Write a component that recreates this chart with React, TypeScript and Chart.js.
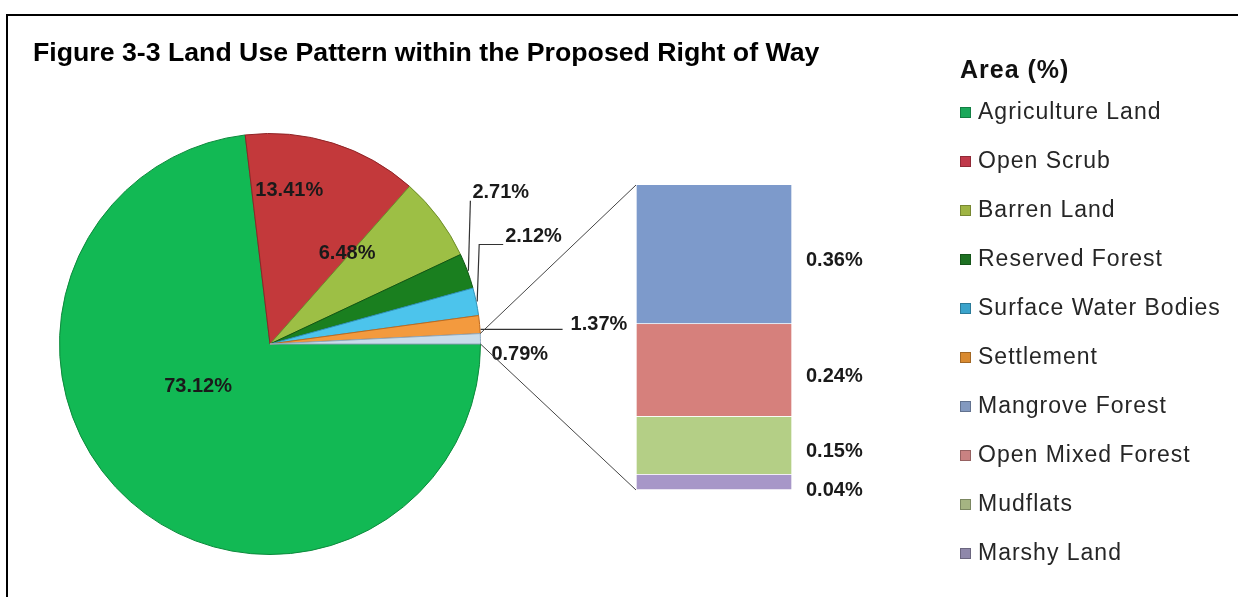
import React, { useEffect, useRef } from 'react';
import { Chart, registerables } from 'chart.js';

Chart.register(...registerables);

const W = 1238;
const H = 597;
const FONT = "'Liberation Sans', Arial, sans-serif";

const titleText = 'Figure 3-3 Land Use Pattern within the Proposed Right of Way';
const legendTitle = 'Area (%)';

const pieLabels = [
  'Agriculture Land',
  'Open Scrub',
  'Barren Land',
  'Reserved Forest',
  'Surface Water Bodies',
  'Settlement',
  'Other',
];
const pieValues = [73.12, 13.41, 6.48, 2.71, 2.12, 1.37, 0.79];

const barLabels = ['Mangrove Forest', 'Open Mixed Forest', 'Mudflats', 'Marshy Land'];
const barValues = [0.36, 0.24, 0.15, 0.04];

const pieColors = ['#12b954', '#c3393b', '#9dbf45', '#1a7f1f', '#4cc4ec', '#f39a3e', '#c9dcea'];
const pieBorders = ['#0c8a3c', '#8f2426', '#6e8e2a', '#0e5512', '#2f93b8', '#c06a1c', '#8fa9bd'];
const barColors = ['#7d9acb', '#d6807c', '#b4cf86', '#a797c8'];
const legendSwatches = ['#1aa85a', '#c0394a', '#9fb443', '#1d7022', '#3aa3cb', '#d98a30', '#8399bf', '#c98282', '#a5b482', '#8f88aa'];

// label layout: inside labels (frac of radius along mid-angle + pixel nudge)
const insideLayout: Record<number, { frac: number; dx: number; dy: number }> = {
  0: { frac: 0.5, dx: -2, dy: -36 },
  1: { frac: 0.72, dx: -26, dy: -9 },
  2: { frac: 0.6, dx: -24, dy: -15 },
};
// outside labels: offset of label (left, middle) from slice edge point; leader type
const outsideLayout: Record<number, { dx: number; dy: number; leader: 'elbow' | 'flat' | 'none' }> = {
  3: { dx: 4, dy: -78, leader: 'elbow' },
  4: { dx: 28, dy: -65, leader: 'elbow' },
  5: { dx: 90, dy: 0, leader: 'flat' },
  6: { dx: 10, dy: 16, leader: 'none' },
};

const fmt = (v: number) => v.toFixed(2) + '%';

export default function App() {
  const pieRef = useRef<HTMLCanvasElement>(null);
  const barRef = useRef<HTMLCanvasElement>(null);

  useEffect(() => {
    if (!pieRef.current || !barRef.current) return;

    const piePlugin = {
      id: 'pieDecor',
      afterDraw(chart: any) {
        const ctx = chart.ctx as CanvasRenderingContext2D;
        ctx.save();
        // title
        ctx.fillStyle = '#000';
        ctx.font = `bold 26.7px ${FONT}`;
        ctx.textBaseline = 'alphabetic';
        ctx.textAlign = 'left';
        ctx.fillText(titleText, 33, 61);

        // legend
        (ctx as any).letterSpacing = '1px';
        ctx.font = `bold 25px ${FONT}`;
        ctx.fillStyle = '#111';
        ctx.textBaseline = 'middle';
        ctx.fillText(legendTitle, 960, 71);
        const items = [...pieLabels.slice(0, 6), ...barLabels];
        ctx.font = `23px ${FONT}`;
        items.forEach((name, i) => {
          const cy = 112 + i * 49;
          ctx.fillStyle = legendSwatches[i];
          ctx.fillRect(960, cy - 5, 11, 11);
          ctx.strokeStyle = 'rgba(0,0,0,0.25)';
          ctx.lineWidth = 1;
          ctx.strokeRect(960.5, cy - 4.5, 10, 10);
          ctx.fillStyle = '#262626';
          ctx.fillText(name, 978, cy + 1);
        });
        (ctx as any).letterSpacing = '0px';

        // data labels
        const meta = chart.getDatasetMeta(0);
        ctx.font = `bold 20px ${FONT}`;
        ctx.fillStyle = '#1a1a1a';
        ctx.strokeStyle = '#333';
        ctx.lineWidth = 1.2;
        meta.data.forEach((arc: any, i: number) => {
          const mid = (arc.startAngle + arc.endAngle) / 2;
          const text = fmt(pieValues[i]);
          if (insideLayout[i]) {
            const l = insideLayout[i];
            const r = arc.outerRadius * l.frac;
            ctx.textAlign = 'center';
            ctx.fillText(text, arc.x + r * Math.cos(mid) + l.dx, arc.y + r * Math.sin(mid) + l.dy);
          } else if (outsideLayout[i]) {
            const l = outsideLayout[i];
            const ex = arc.x + (arc.outerRadius + 1) * Math.cos(mid);
            const ey = arc.y + (arc.outerRadius + 1) * Math.sin(mid);
            const lx = ex + l.dx;
            const ly = ey + l.dy;
            ctx.beginPath();
            if (l.leader === 'elbow') {
              ctx.moveTo(ex, ey);
              ctx.lineTo(ex + 2, ly + 8);
              ctx.lineTo(lx - 2, ly + 8);
              ctx.stroke();
            } else if (l.leader === 'flat') {
              ctx.moveTo(ex, ly + 5);
              ctx.lineTo(lx - 8, ly + 5);
              ctx.stroke();
            }
            ctx.textAlign = 'left';
            ctx.fillText(text, lx, ly);
          }
        });
        ctx.restore();
      },
    };

    const pieChart = new Chart(pieRef.current, {
      type: 'pie',
      data: {
        labels: pieLabels,
        datasets: [
          {
            data: pieValues,
            backgroundColor: pieColors,
            borderColor: pieBorders,
            borderWidth: 1,
          },
        ],
      },
      options: {
        responsive: false,
        animation: false,
        devicePixelRatio: 1,
        rotation: 90,
        layout: { padding: { left: 59, top: 133, right: W - 481, bottom: H - 555 } },
        plugins: { legend: { display: false }, tooltip: { enabled: false }, title: { display: false } },
      },
      plugins: [piePlugin],
    } as any);

    const barPlugin = {
      id: 'barDecor',
      afterDraw(chart: any) {
        const ctx = chart.ctx as CanvasRenderingContext2D;
        ctx.save();
        // connectors from pie "Other" slice to bar corners
        const pmeta = pieChart.getDatasetMeta(0);
        const other: any = pmeta.data[pmeta.data.length - 1];
        const topMeta = chart.getDatasetMeta(0).data[0] as any;
        const botMeta = chart.getDatasetMeta(barValues.length - 1).data[0] as any;
        const left = topMeta.x - topMeta.width / 2;
        const topY = Math.min(topMeta.y, topMeta.base);
        const botY = Math.max(botMeta.y, botMeta.base);
        const r = other.outerRadius;
        ctx.strokeStyle = '#444';
        ctx.lineWidth = 1;
        ctx.beginPath();
        ctx.moveTo(other.x + r * Math.cos(other.startAngle), other.y + r * Math.sin(other.startAngle));
        ctx.lineTo(left, topY);
        ctx.moveTo(other.x + r * Math.cos(other.endAngle), other.y + r * Math.sin(other.endAngle));
        ctx.lineTo(left, botY);
        ctx.stroke();

        // labels
        ctx.font = `bold 20px ${FONT}`;
        ctx.fillStyle = '#1a1a1a';
        ctx.textAlign = 'left';
        ctx.textBaseline = 'middle';
        barValues.forEach((v, i) => {
          const el: any = chart.getDatasetMeta(i).data[0];
          const right = el.x + el.width / 2;
          let cy = (el.y + el.base) / 2 + 6;
          if (i === barValues.length - 1) cy += 2;
          ctx.fillText(fmt(v), right + 14, cy);
        });
        ctx.restore();
      },
    };

    const barChart = new Chart(barRef.current, {
      type: 'bar',
      data: {
        labels: ['Other'],
        datasets: barLabels.map((label, i) => ({
          label,
          data: [barValues[i]],
          backgroundColor: barColors[i],
          borderColor: 'rgba(255,255,255,0.55)',
          borderWidth: 1,
          barPercentage: 1,
          categoryPercentage: 1,
        })),
      },
      options: {
        responsive: false,
        animation: false,
        devicePixelRatio: 1,
        layout: { padding: { left: 636, right: W - 792, top: 185, bottom: H - 490 } },
        scales: {
          x: { display: false, stacked: true },
          y: { display: false, stacked: true, min: 0, max: pieValues[pieValues.length - 1], reverse: true },
        },
        plugins: { legend: { display: false }, tooltip: { enabled: false } },
      },
      plugins: [barPlugin],
    } as any);

    return () => {
      barChart.destroy();
      pieChart.destroy();
    };
  }, []);

  return (
    <div
      style={{
        position: 'fixed',
        left: 0,
        top: 0,
        width: W,
        height: H,
        overflow: 'hidden',
        background: '#fff',
      }}
    >
      <div
        style={{
          position: 'absolute',
          left: 6,
          top: 14,
          width: 1300,
          height: 700,
          border: '2px solid #000',
        }}
      />
      <canvas ref={pieRef} width={W} height={H} style={{ position: 'absolute', left: 0, top: 0, width: W, height: H }} />
      <canvas ref={barRef} width={W} height={H} style={{ position: 'absolute', left: 0, top: 0, width: W, height: H }} />
    </div>
  );
}
